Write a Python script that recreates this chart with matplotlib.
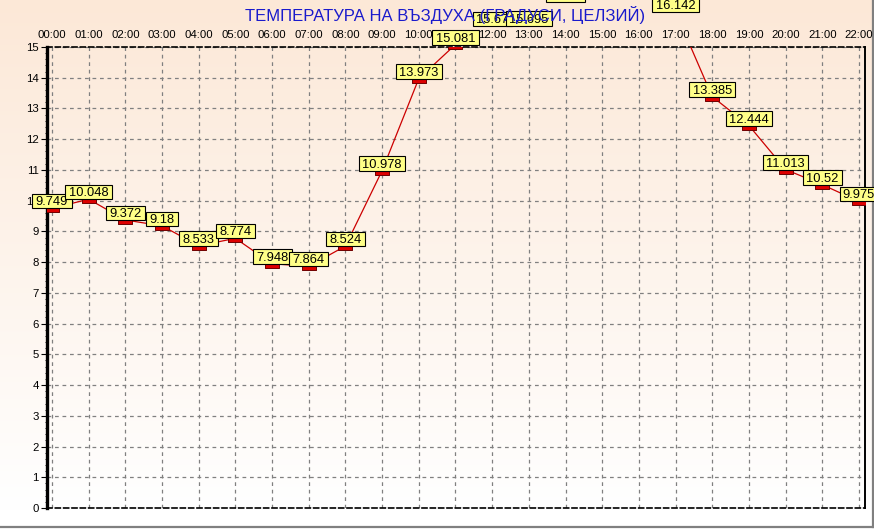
import matplotlib
matplotlib.use('Agg')
import matplotlib.pyplot as plt
import numpy as np
from matplotlib.path import Path

plt.rcParams['font.family'] = ['Liberation Sans', 'DejaVu Sans']

# ---- data ----
hours = list(range(23))
hour_labels = [f"{h:02d}:00" for h in hours]
temps = [9.749, 10.048, 9.372, 9.18, 8.533, 8.774, 7.948, 7.864, 8.524,
         10.978, 13.973, 15.081, 15.67, 15.695, 16.47, 16.9, 16.7, 16.142,
         13.385, 12.444, 11.013, 10.52, 9.975]
y_ticks = list(range(0, 16))
title = "ТЕМПЕРАТУРА НА ВЪЗДУХА (ГРАДУСИ, ЦЕЛЗИЙ)"

W, H = 874, 529
fig = plt.figure(figsize=(W / 100, H / 100), dpi=100)

# background gradient
bg = fig.add_axes([0, 0, 1, 1], zorder=-10)
rows = np.linspace(0, 1, H)[:, None]  # 0 at top
top = np.array([252, 232, 215]) / 255.0
bot = np.array([255, 255, 255]) / 255.0
frac = np.clip(rows / (510 / H), 0, 1)
grad = top[None, None, :] * (1 - frac[..., None]) + bot[None, None, :] * frac[..., None]
grad = np.repeat(grad, 4, axis=1)
bg.imshow(grad, aspect='auto', extent=[0, 1, 0, 1], origin='upper')
bg.set_xlim(0, 1)
bg.set_ylim(0, 1)
bg.axis('off')
bg.plot([0, 872.5 / W], [1 - 527 / H] * 2, color='#808080', lw=1.6)
bg.plot([872.5 / W] * 2, [1 - 527 / H, 1], color='#808080', lw=1.6)

# main axes
left, right, topy, boty = 47, 865, 47, 508
ax = fig.add_axes([left / W, 1 - boty / H, (right - left) / W, (boty - topy) / H])
ax.patch.set_alpha(0)
ax.set_xlim(-0.136, 22.164)
ax.set_ylim(0, 15)

ax.grid(True, color='#808080', ls=(0, (3, 3)), lw=0.9)
ax.set_axisbelow(True)

ax.plot(hours, temps, color='#cc0000', lw=0.9, zorder=3)
rect = Path([(-1, 0), (1, 0), (1, -0.5), (-1, -0.5), (-1, 0)],
            [Path.MOVETO, Path.LINETO, Path.LINETO, Path.LINETO, Path.CLOSEPOLY])
ax.plot(hours, temps, ls='none', marker=rect, ms=10.5, mfc='#dd0000',
        mec='#700000', mew=0.7, zorder=4)


def label_box(x0, y0, width, height, mutation_size):
    hp = 0.26 * mutation_size
    vt = 0.18 * mutation_size
    vb = 0.0 * mutation_size
    x1, y1 = x0 + width + hp, y0 + height + vt
    x0, y0 = x0 - hp, y0 - vb
    return Path([(x0, y0), (x1, y0), (x1, y1), (x0, y1), (x0, y0)],
                [Path.MOVETO, Path.LINETO, Path.LINETO, Path.LINETO, Path.CLOSEPOLY])


for h, v in zip(hours, temps):
    ax.annotate(f"{v:g}", xy=(h, v), xytext=(0, 0.0), textcoords='offset points',
                ha='center', va='bottom', fontsize=9.3, color='black',
                bbox=dict(boxstyle=label_box, fc='#ffff88', ec='black', lw=0.8),
                annotation_clip=False, zorder=6)

ax.xaxis.tick_top()
ax.set_xticks(hours)
ax.set_xticklabels(hour_labels, fontsize=8.2)
ax.tick_params(axis='x', length=0, pad=5)
ax.set_yticks(y_ticks)
ax.set_yticklabels([str(t) for t in y_ticks], fontsize=8.2)
ax.set_yticks(np.arange(0, 15.01, 0.2), minor=True)
ax.tick_params(axis='y', which='major', length=4, width=0.8, pad=2)
ax.tick_params(axis='y', which='minor', length=1.5, width=0.6)

ax.spines['left'].set_linewidth(2.4)
ax.spines['right'].set_linewidth(1.4)
for s in ('top', 'bottom'):
    ax.spines[s].set_linewidth(1.2)
    ax.spines[s].set_linestyle((0, (3, 2)))

fig.text(445 / W, 1 - 15 / H, title, color='#1a1acc', fontsize=12,
         ha='center', va='center')

fig.savefig('out.png', dpi=100)
